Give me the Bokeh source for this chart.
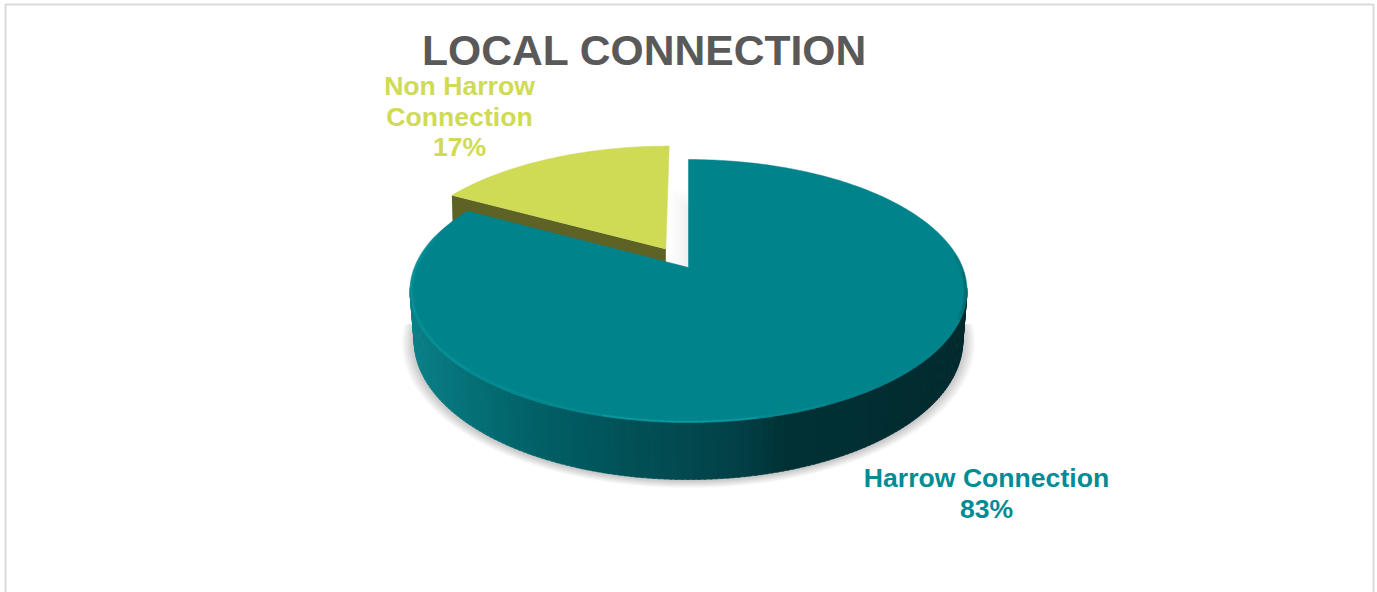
import numpy as np
from bokeh.core.properties import value
from bokeh.embed import file_html
from bokeh.models import Range1d
from bokeh.plotting import figure
from bokeh.resources import INLINE

# Chart content
title_text = "LOCAL CONNECTION"
categories = ["Harrow Connection", "Non Harrow Connection"]
shares = [83, 17]
label_lines = [["Harrow Connection", "83%"], ["Non Harrow", "Connection", "17%"]]

TEAL = "#00838a"
TEAL_LABEL = "#008c94"
LIME = "#cfda55"
LIME_DARK = "#5e6224"
GREY_TEXT = "#595959"
FONT = value("Liberation Sans")

W, H = 1377, 592
p = figure(width=W, height=H, x_range=Range1d(0, W), y_range=Range1d(H, 0),
           output_backend="svg", toolbar_location=None, min_border=0,
           outline_line_color=None, background_fill_color="white",
           border_fill_color="white")
p.axis.visible = False
p.grid.visible = False

# Perspective model of the tilted disc
CX, CY = 688.0, 267.0
R, B, TILT = 274.0, 127.3, 0.179
EXPLODE_U, EXPLODE_V = -0.085, 0.15
SHRINK = 0.985


def top_face(theta, radius=1.0, du=0.0, dv=0.0):
    u = radius * np.sin(theta) + du
    v = radius * np.cos(theta) + dv
    w = 1 + TILT * v
    return CX + R * u / w, CY - B * v / w


def base_of(theta, radius=1.0):
    x, y = top_face(theta, radius)
    v = radius * np.cos(theta)
    return CX + (x - CX) * SHRINK, y + 48 - 9 * v


split = np.radians(360 * shares[0] / sum(shares))

# Frame around the chart area
p.line([5, 5, 1373, 1373], [H + 10, 4, 4, H + 10], line_color="#d9d9d9", line_width=2)

# Soft ground shadow below the front half of the disc
sweep = np.radians(np.linspace(93, 267, 140))
for grow in np.linspace(1.045, 1.002, 14):
    bx, by = base_of(sweep)
    sx = CX + (bx - CX) * grow
    sy = 310 + (by - 310) * grow + 1
    p.patch(sx, sy, fill_color="#666666", fill_alpha=0.022, line_color=None)

# Faint shading seen through the gap between the two slices
for k in range(8):
    left = 670 + k * 2.4
    p.quad(left=left, right=CX + 1, top=190 + k * 2.6, bottom=CY,
           fill_color="#999999", fill_alpha=0.022, line_color=None)

# Outer wall of the disc, shaded across its width
wall_x = [410, 470, 540, 610, 680, 740, 785, 850, 965]
wall_c = [(10, 128, 135), (6, 112, 119), (2, 96, 103), (1, 84, 90), (2, 74, 80),
          (2, 64, 70), (1, 50, 54), (1, 48, 52), (1, 42, 46)]
edges = np.radians(np.linspace(99, 261, 163))
xs, ys, cols = [], [], []
for a0, a1 in zip(edges[:-1], edges[1:]):
    a = np.array([a0, a1 + 0.004])
    tx, ty = top_face(a)
    lx, ly = base_of(a)
    xs.append([tx[0], tx[1], lx[1], lx[0]])
    ys.append([ty[0], ty[1], ly[1], ly[0]])
    mid = tx.mean()
    rgb = [int(np.interp(mid, wall_x, [c[i] for c in wall_c])) for i in range(3)]
    cols.append("#%02x%02x%02x" % tuple(rgb))
p.patches(xs, ys, fill_color=cols, line_color=cols, line_width=0.6)

# Exploded lime slice: cut wall first, then its top
arc = np.linspace(split, 2 * np.pi, 60)
ax, ay = top_face(arc, du=EXPLODE_U, dv=EXPLODE_V)
ox, oy = top_face(np.array([0.0]), radius=0.0, du=EXPLODE_U, dv=EXPLODE_V)
p.patch([ox[0], ax[0], ax[0] + 1, ox[0]], [oy[0], ay[0], ay[0] + 42, oy[0] + 42],
        fill_color=LIME_DARK, line_color=None)
p.patch(np.r_[ox, ax], np.r_[oy, ay], fill_color=LIME, line_color=LIME, line_width=0.5)

# Large teal slice top
arc = np.linspace(0, split, 300)
tx, ty = top_face(arc)
p.patch(np.r_[CX, tx], np.r_[CY, ty], fill_color=TEAL, line_color=TEAL, line_width=0.5)


# Bevel along the rim: bright on the left and front, dark towards the right
def rim(a_from, a_to, color, width, alpha):
    a = np.radians(np.linspace(a_from, a_to, 120))
    x, y = top_face(a, radius=0.995)
    p.line(x, y, line_color=color, line_width=width, line_alpha=alpha, line_cap="round")


rim(85, 112, "#00565b", 4, 0.2)
rim(92, 110, "#004a4f", 2, 0.25)
rim(155, 205, "#10a4ad", 3, 0.18)
rim(168, 195, "#1cb4bd", 1.2, 0.4)
rim(205, 285, "#0a9aa2", 4, 0.25)
rim(225, 275, "#12a5ad", 1.5, 0.3)

# Title and data labels
p.text([644], [49], text=[title_text], text_font=FONT, text_font_style="bold",
       text_font_size="42.6px", text_color=GREY_TEXT, text_align="center",
       text_baseline="middle")

for line, y in zip(label_lines[0], [477.5, 508.5]):
    p.text([986], [y], text=[line], text_font=FONT, text_font_style="bold",
           text_font_size="26.6px", text_color=TEAL_LABEL, text_align="center",
           text_baseline="middle")
for line, y in zip(label_lines[1], [85.5, 116.5, 146.5]):
    p.text([459], [y], text=[line], text_font=FONT, text_font_style="bold",
           text_font_size="26.6px", text_color=LIME, text_align="center",
           text_baseline="middle")

with open("out.html", "w") as f:
    f.write(file_html(p, INLINE))
